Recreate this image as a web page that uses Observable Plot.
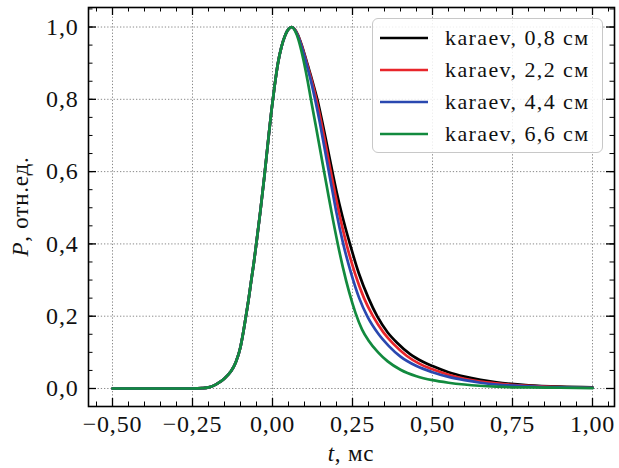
<!DOCTYPE html>
<html><head><meta charset="utf-8">
<script src="https://cdn.jsdelivr.net/npm/d3@7"></script>
<script src="https://cdn.jsdelivr.net/npm/@observablehq/plot@0.6"></script>
<style>
body{margin:0;background:#fff;}
#wrap{position:relative;width:619px;height:468px;font-family:"Liberation Serif",serif;}
#legend{position:absolute;left:372px;top:18px;width:229px;height:133px;border:1.5px solid #c8c8c8;border-radius:6px;background:rgba(255,255,255,0.85);}
.row{position:absolute;left:0;height:32px;display:flex;align-items:center;}
.row svg{margin-left:7px;margin-right:17px;}
.row span{font-size:22px;letter-spacing:1.4px;color:#111;white-space:nowrap;font-family:"Liberation Serif",serif;}
</style></head><body><div id="wrap"></div>
<script>
const seriesNames = ["karaev, 0,8 см", "karaev, 2,2 см", "karaev, 4,4 см", "karaev, 6,6 см"];
const seriesColors = ["#000000", "#e8252b", "#2a48b0", "#128a3e"];

// common rising edge
const riseT = [-0.5, -0.4, -0.3, -0.25, -0.22, -0.2, -0.184, -0.17, -0.15, -0.131, -0.115, -0.1, -0.092, -0.084, -0.075, -0.067, -0.058, -0.05, -0.038, -0.025, -0.013, -0.003, 0.007, 0.017, 0.028, 0.04, 0.05];
const riseP = [0, 0, 0, 0, 0.001, 0.003, 0.008, 0.015, 0.028, 0.046, 0.072, 0.115, 0.152, 0.195, 0.245, 0.295, 0.35, 0.405, 0.49, 0.59, 0.69, 0.77, 0.84, 0.9, 0.945, 0.978, 0.994];

// decay per series
const decayT08 = [0.06, 0.07, 0.08, 0.09, 0.1, 0.11, 0.12, 0.13, 0.14, 0.155, 0.17, 0.187, 0.2, 0.218, 0.242, 0.27, 0.3, 0.327, 0.36, 0.39, 0.43, 0.47, 0.5, 0.55, 0.6, 0.65, 0.7, 0.8, 0.9, 1.0];
const decayP08 = [1.0, 0.993, 0.977, 0.953, 0.925, 0.895, 0.865, 0.833, 0.8, 0.74, 0.675, 0.6, 0.545, 0.478, 0.4, 0.318, 0.25, 0.2, 0.155, 0.126, 0.095, 0.074, 0.062, 0.045, 0.033, 0.024, 0.017, 0.009, 0.005, 0.003];
const decayT22 = [0.06, 0.07, 0.08, 0.09, 0.1, 0.11, 0.12, 0.13, 0.137, 0.152, 0.167, 0.182, 0.195, 0.207, 0.231, 0.258, 0.286, 0.314, 0.346, 0.377, 0.42, 0.46, 0.5, 0.55, 0.6, 0.65, 0.7, 0.8, 0.9, 1.0];
const decayP22 = [1.0, 0.993, 0.976, 0.951, 0.922, 0.891, 0.86, 0.826, 0.8, 0.738, 0.67, 0.6, 0.542, 0.49, 0.4, 0.318, 0.25, 0.2, 0.156, 0.124, 0.09, 0.068, 0.053, 0.038, 0.027, 0.019, 0.014, 0.007, 0.004, 0.002];
const decayT44 = [0.06, 0.07, 0.08, 0.09, 0.1, 0.11, 0.12, 0.133, 0.148, 0.162, 0.176, 0.188, 0.199, 0.221, 0.246, 0.271, 0.296, 0.33, 0.363, 0.4, 0.45, 0.5, 0.55, 0.6, 0.65, 0.7, 0.8, 0.9, 1.0];
const decayP44 = [1.0, 0.992, 0.974, 0.948, 0.918, 0.885, 0.851, 0.8, 0.735, 0.668, 0.6, 0.543, 0.49, 0.4, 0.318, 0.25, 0.2, 0.152, 0.118, 0.088, 0.062, 0.045, 0.032, 0.023, 0.016, 0.011, 0.006, 0.003, 0.002];
const decayT66 = [0.06, 0.07, 0.08, 0.09, 0.1, 0.11, 0.12, 0.135, 0.15, 0.16, 0.172, 0.184, 0.204, 0.22, 0.24, 0.259, 0.28, 0.3, 0.33, 0.36, 0.4, 0.45, 0.5, 0.55, 0.6, 0.7, 0.8, 0.9, 1.0];
const decayP66 = [1.0, 0.99, 0.968, 0.935, 0.895, 0.85, 0.8, 0.728, 0.655, 0.606, 0.548, 0.49, 0.4, 0.335, 0.265, 0.21, 0.163, 0.133, 0.1, 0.075, 0.052, 0.034, 0.023, 0.016, 0.011, 0.005, 0.003, 0.002, 0.001];

const xTickValues = [-0.5, -0.25, 0, 0.25, 0.5, 0.75, 1.0];
const yTickValues = [0, 0.2, 0.4, 0.6, 0.8, 1.0];

const decays = [[decayT08, decayP08], [decayT22, decayP22], [decayT44, decayP44], [decayT66, decayP66]];
const rows = [];
seriesNames.forEach((name, i) => {
  riseT.forEach((t, j) => rows.push({series: name, t, P: riseP[j]}));
  decays[i][0].forEach((t, j) => rows.push({series: name, t, P: decays[i][1][j]}));
});

const W = 619, H = 468, mL = 88, mR = 5, mT = 7, mB = 62;
const fw = W - mL - mR, fh = H - mT - mB;
const majLen = 8, minLen = 4.5;
const minorX = d3.range(-0.55, 1.066, 0.05).map(v => +v.toFixed(2));
const minorY = d3.range(0, 1.051, 0.05).map(v => +v.toFixed(2));
const fmt = (d, n) => d.toFixed(n).replace(".", ",").replace("-", "\u2212");

const plot = Plot.plot({
  width: W, height: H,
  marginLeft: mL, marginRight: mR, marginTop: mT, marginBottom: mB,
  style: {fontFamily: "Liberation Serif", color: "#111", background: "white"},
  x: {domain: [-0.575, 1.06875], label: null},
  y: {domain: [-0.0498, 1.054], label: null},
  color: {domain: seriesNames, range: seriesColors},
  marks: [
    Plot.gridX(xTickValues, {stroke: "#8a8a8a", strokeOpacity: 1, strokeWidth: 1, strokeDasharray: "1.3,1.9"}),
    Plot.gridY(yTickValues, {stroke: "#8a8a8a", strokeOpacity: 1, strokeWidth: 1, strokeDasharray: "1.3,1.9"}),
    Plot.line(rows, {x: "t", y: "P", z: "series", stroke: "series", strokeWidth: 2.7, curve: "monotone-x"}),
    // inward ticks, all four sides
    Plot.tickX(xTickValues, {x: d => d, insetTop: fh - majLen, stroke: "#000", strokeWidth: 1.3}),
    Plot.tickX(xTickValues, {x: d => d, insetBottom: fh - majLen, stroke: "#000", strokeWidth: 1.3}),
    Plot.tickX(minorX, {x: d => d, insetTop: fh - minLen, stroke: "#000", strokeWidth: 1}),
    Plot.tickX(minorX, {x: d => d, insetBottom: fh - minLen, stroke: "#000", strokeWidth: 1}),
    Plot.tickY(yTickValues, {y: d => d, insetRight: fw - majLen, stroke: "#000", strokeWidth: 1.3}),
    Plot.tickY(yTickValues, {y: d => d, insetLeft: fw - majLen, stroke: "#000", strokeWidth: 1.3}),
    Plot.tickY(minorY, {y: d => d, insetRight: fw - minLen, stroke: "#000", strokeWidth: 1}),
    Plot.tickY(minorY, {y: d => d, insetLeft: fw - minLen, stroke: "#000", strokeWidth: 1}),
    Plot.axisX(xTickValues, {tickSize: 0, tickPadding: 8, tickFormat: d => fmt(d, 2), label: null}),
    Plot.axisY(yTickValues, {tickSize: 0, tickPadding: 10, tickFormat: d => fmt(d, 1), label: null}),
    Plot.frame({stroke: "#000", strokeWidth: 1.6})
  ]
});

const wrap = document.getElementById("wrap");
wrap.appendChild(plot);

const svg = d3.select(plot);
// tick label font
svg.selectAll("text").style("font-size", "24px").style("letter-spacing", "0.8px").style("font-family", "Liberation Serif");

// axis titles with italic variables
const xt = svg.append("text").attr("x", (mL + W - mR) / 2).attr("y", 461)
  .attr("text-anchor", "middle").style("font-size", "23px").style("letter-spacing", "0.8px").style("font-family", "Liberation Serif").attr("fill", "#111");
xt.append("tspan").attr("font-style", "italic").text("t");
xt.append("tspan").text(", мс");
const yt = svg.append("text").attr("transform", `translate(28,${(mT + H - mB) / 2}) rotate(-90)`)
  .attr("text-anchor", "middle").style("font-size", "23px").style("letter-spacing", "0.8px").style("font-family", "Liberation Serif").attr("fill", "#111");
yt.append("tspan").attr("font-style", "italic").text("P");
yt.append("tspan").text(", отн.ед.");

// legend
const leg = document.createElement("div");
leg.id = "legend";
seriesNames.forEach((name, i) => {
  const r = document.createElement("div");
  r.className = "row";
  r.style.top = (3 + i * 32) + "px";
  r.innerHTML = `<svg width="48" height="6"><line x1="0" x2="48" y1="3" y2="3" stroke="${seriesColors[i]}" stroke-width="2.7"/></svg><span>${name}</span>`;
  leg.appendChild(r);
});
wrap.appendChild(leg);
</script>
</body></html>
